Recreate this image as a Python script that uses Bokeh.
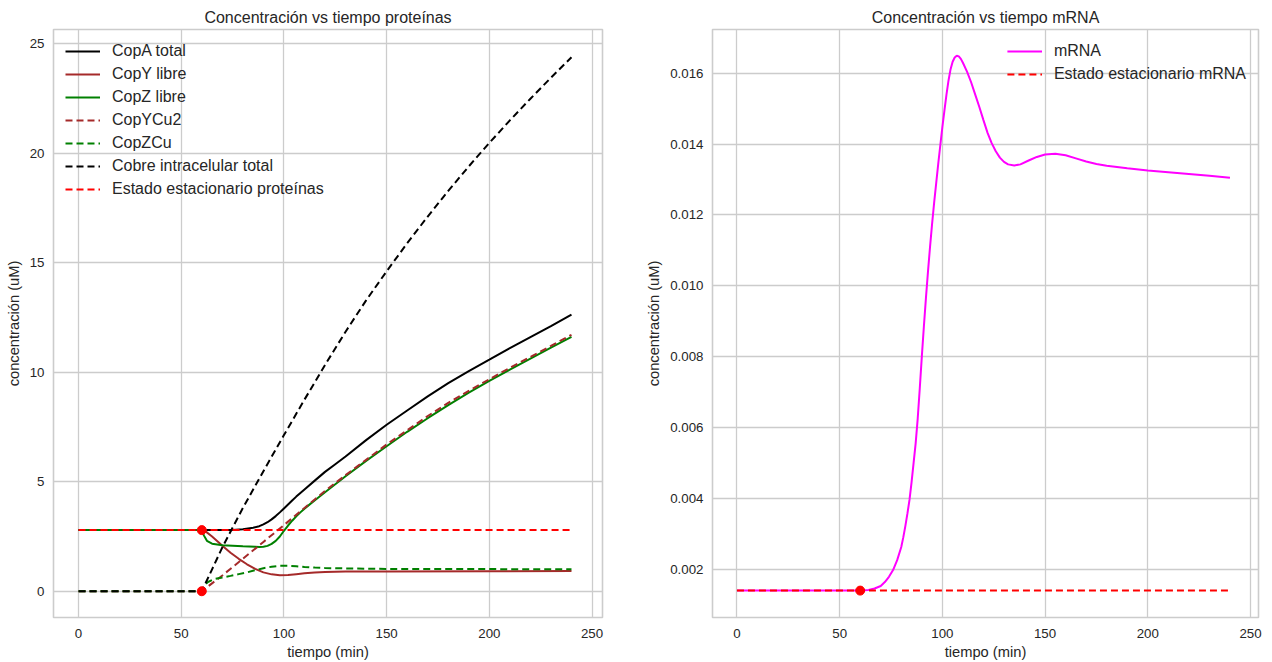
from bokeh.plotting import figure
from bokeh.layouts import row
from bokeh.models import FixedTicker, PrintfTickFormatter, Legend, LegendItem, Range1d
from bokeh.embed import file_html
from bokeh.resources import INLINE

# ---------------- data ----------------
x_ticks = [0, 50, 100, 150, 200, 250]
y_ticks_prot = [0, 5, 10, 15, 20, 25]
y_ticks_mrna = [0.002, 0.004, 0.006, 0.008, 0.010, 0.012, 0.014, 0.016]

t_copA = [0, 60, 70, 75, 80, 85, 88, 90, 92, 94, 96, 98, 100, 102, 104, 106, 108, 110,
          115, 120, 125, 130, 140, 150, 160, 170, 180, 190, 200, 210, 220, 230, 240]
copA_total = [2.79, 2.79, 2.79, 2.80, 2.83, 2.90, 2.97, 3.05, 3.15, 3.28, 3.43, 3.60, 3.78,
              3.96, 4.14, 4.32, 4.49, 4.65, 5.05, 5.45, 5.80, 6.15, 6.90, 7.60, 8.25, 8.90,
              9.50, 10.05, 10.57, 11.10, 11.60, 12.10, 12.63]

t_copY = [0, 60, 62, 65, 68, 71, 74, 78, 82, 86, 90, 94, 98, 102, 106, 110, 115, 120,
          130, 150, 200, 240]
copY_libre = [2.79, 2.79, 2.72, 2.50, 2.25, 2.00, 1.76, 1.48, 1.23, 1.02, 0.86, 0.77, 0.73,
              0.74, 0.78, 0.82, 0.86, 0.88, 0.90, 0.90, 0.91, 0.92]

t_copZ = [0, 60, 61, 62.5, 65, 70, 80, 86, 88, 90, 92, 94, 96, 98, 100, 102, 104, 106,
          108, 110, 113, 116, 120, 130, 140, 150, 160, 170, 180, 190, 200, 210, 220, 230, 240]
copZ_libre = [2.79, 2.79, 2.55, 2.30, 2.17, 2.10, 2.05, 2.03, 2.02, 2.03, 2.07, 2.16, 2.30,
              2.50, 2.76, 3.00, 3.22, 3.42, 3.60, 3.77, 4.00, 4.22, 4.52, 5.25, 5.95, 6.62,
              7.28, 7.90, 8.50, 9.07, 9.60, 10.12, 10.62, 11.12, 11.61]

t_copYCu2 = [0, 60, 70, 80, 90, 100, 110, 120, 130, 140, 150, 160, 170, 180, 190, 200,
             210, 220, 230, 240]
copYCu2 = [0, 0, 0.72, 1.48, 2.25, 3.02, 3.80, 4.58, 5.30, 6.00, 6.70, 7.35, 8.00, 8.60,
           9.15, 9.68, 10.20, 10.70, 11.20, 11.71]

t_copZCu = [0, 60, 61, 63, 66, 70, 74, 78, 82, 86, 90, 94, 98, 102, 106, 110, 115, 120,
            130, 150, 200, 240]
copZCu = [0, 0, 0.25, 0.42, 0.55, 0.63, 0.70, 0.78, 0.86, 0.96, 1.05, 1.12, 1.16, 1.16,
          1.14, 1.11, 1.08, 1.06, 1.04, 1.02, 1.01, 1.00]

t_cobre = [0, 60, 65, 70, 80, 90, 100, 110, 120, 130, 140, 150, 160, 170, 180, 190,
           200, 210, 220, 230, 240]
cobre_total = [0, 0, 1.0, 2.0, 3.80, 5.48, 7.13, 8.75, 10.33, 11.85, 13.28, 14.61, 15.89,
               17.11, 18.28, 19.40, 20.47, 21.50, 22.49, 23.45, 24.38]

t_ss = [0, 240]
ss_prot = [2.79, 2.79]

t_pert = [60, 60]
pert_prot = [2.79, 0]

t_mrna = [0, 60, 64, 67, 70, 72, 74, 76, 78, 80, 81, 82, 83, 84, 85, 86, 87, 88, 89, 90,
          91, 92, 93, 94, 95, 96, 97, 98, 99, 100, 101, 102, 103, 104, 105, 106, 107, 108,
          109, 110, 112, 114, 116, 118, 120, 122, 124, 126, 128, 130, 132, 135, 138, 142,
          146, 150, 155, 160, 165, 170, 175, 180, 190, 200, 210, 220, 230, 240]
mrna = [0.00139, 0.00139, 0.00141, 0.00145, 0.00152, 0.00163, 0.00178, 0.00197, 0.00225,
        0.00262, 0.00290, 0.00322, 0.00357, 0.00395, 0.00445, 0.00500, 0.00555, 0.00625,
        0.00710, 0.00800, 0.00885, 0.00965, 0.01040, 0.01110, 0.01175, 0.01235, 0.01290,
        0.01345, 0.01397, 0.01448, 0.01495, 0.01540, 0.01580, 0.01612, 0.01633, 0.01645,
        0.01650, 0.01648, 0.01641, 0.01630, 0.01605, 0.01575, 0.01540, 0.01505, 0.01468,
        0.01432, 0.01403, 0.01380, 0.01362, 0.01350, 0.01343, 0.01340, 0.01343, 0.01354,
        0.01364, 0.01371, 0.01373, 0.01369, 0.01360, 0.01351, 0.01344, 0.01339, 0.01332,
        0.01326, 0.01321, 0.01316, 0.01311, 0.01305]
ss_mrna = [0.00139, 0.00139]
t_pert_mrna = [60]
pert_mrna = [0.00139]

# ---------------- styling helpers ----------------
FONT = "Liberation Sans"
TXT = "#262626"
GRID = "#cccccc"
DASH = "7 4"


def style(p, xt, yt):
    p.background_fill_color = "white"
    p.border_fill_color = "white"
    p.outline_line_color = GRID
    p.outline_line_width = 1.6
    p.title.text_font = FONT
    p.title.text_font_size = "16px"
    p.title.text_font_style = "normal"
    p.title.text_color = TXT
    p.title.align = "center"
    p.title.standoff = 8
    for ax in (p.xaxis[0], p.yaxis[0]):
        ax.axis_line_color = None
        ax.major_tick_line_color = None
        ax.minor_tick_line_color = None
        ax.major_tick_in = 0
        ax.major_tick_out = 0
        ax.minor_tick_in = 0
        ax.minor_tick_out = 0
        ax.major_label_text_font = FONT
        ax.major_label_text_font_size = "13.3px"
        ax.major_label_text_color = TXT
        ax.major_label_standoff = 9
        ax.axis_label_text_font = FONT
        ax.axis_label_text_font_size = "14.7px"
        ax.axis_label_text_font_style = "normal"
        ax.axis_label_text_color = TXT
        ax.axis_label_standoff = 5
    p.xaxis[0].major_label_standoff = 11
    p.xaxis[0].axis_label_standoff = 3
    p.xaxis[0].ticker = FixedTicker(ticks=xt)
    p.yaxis[0].ticker = FixedTicker(ticks=yt)
    for g in (p.xgrid[0], p.ygrid[0]):
        g.grid_line_color = GRID
        g.grid_line_width = 1.3
    p.xgrid[0].ticker = FixedTicker(ticks=xt)
    p.ygrid[0].ticker = FixedTicker(ticks=yt)


# ---------------- left: proteins ----------------
p1 = figure(width=640, height=662, output_backend="svg", toolbar_location=None,
            title="Concentración vs tiempo proteínas",
            x_range=Range1d(-12.2, 255.1), y_range=Range1d(-1.2, 25.65),
            min_border_left=53, min_border_right=38, min_border_top=29, min_border_bottom=44,
            x_axis_label="tiempo (min)", y_axis_label="concentración (uM)")
style(p1, x_ticks, y_ticks_prot)

r1 = p1.line(t_copA, copA_total, line_color="black", line_width=2)
r2 = p1.line(t_copY, copY_libre, line_color="#a52a2a", line_width=2)
r3 = p1.line(t_copZ, copZ_libre, line_color="#008000", line_width=2)
r4 = p1.line(t_copYCu2, copYCu2, line_color="#a52a2a", line_width=2, line_dash=DASH)
r5 = p1.line(t_copZCu, copZCu, line_color="#008000", line_width=2, line_dash=DASH)
r6 = p1.line(t_cobre, cobre_total, line_color="black", line_width=2, line_dash=DASH)
r7 = p1.line(t_ss, ss_prot, line_color="#ff0000", line_width=2, line_dash=DASH)
p1.scatter(t_pert, pert_prot, size=9, fill_color="#ff0000", line_color="#ff0000")

leg1 = Legend(items=[
    LegendItem(label="CopA total", renderers=[r1]),
    LegendItem(label="CopY libre", renderers=[r2]),
    LegendItem(label="CopZ libre", renderers=[r3]),
    LegendItem(label="CopYCu2", renderers=[r4]),
    LegendItem(label="CopZCu", renderers=[r5]),
    LegendItem(label="Cobre intracelular total", renderers=[r6]),
    LegendItem(label="Estado estacionario proteínas", renderers=[r7]),
], location="top_left")

# ---------------- right: mRNA ----------------
p2 = figure(width=632, height=662, output_backend="svg", toolbar_location=None,
            title="Concentración vs tiempo mRNA",
            x_range=Range1d(-11.9, 253.9), y_range=Range1d(0.00063, 0.01724),
            min_border_left=72, min_border_right=14, min_border_top=29, min_border_bottom=44,
            x_axis_label="tiempo (min)", y_axis_label="concentración (uM)")
style(p2, x_ticks, y_ticks_mrna)
p2.yaxis[0].formatter = PrintfTickFormatter(format="%.3f")

m1 = p2.line(t_mrna, mrna, line_color="#ff00ff", line_width=2)
m2 = p2.line(t_ss, ss_mrna, line_color="#ff0000", line_width=2, line_dash=DASH)
p2.scatter(t_pert_mrna, pert_mrna, size=9, fill_color="#ff0000", line_color="#ff0000")

leg2 = Legend(items=[
    LegendItem(label="mRNA", renderers=[m1]),
    LegendItem(label="Estado estacionario mRNA", renderers=[m2]),
], location="top_right")

for lg in (leg1, leg2):
    lg.background_fill_alpha = 0
    lg.border_line_color = None
    lg.label_text_font = FONT
    lg.label_text_font_size = "16px"
    lg.label_text_color = TXT
    lg.glyph_width = 35
    lg.glyph_height = 20
    lg.label_height = 20
    lg.label_standoff = 12
    lg.spacing = 3
    lg.padding = 0
    lg.margin = 12

p1.add_layout(leg1)
p2.add_layout(leg2)

layout = row(p1, p2)
open("out.html", "w").write(file_html(layout, INLINE))
